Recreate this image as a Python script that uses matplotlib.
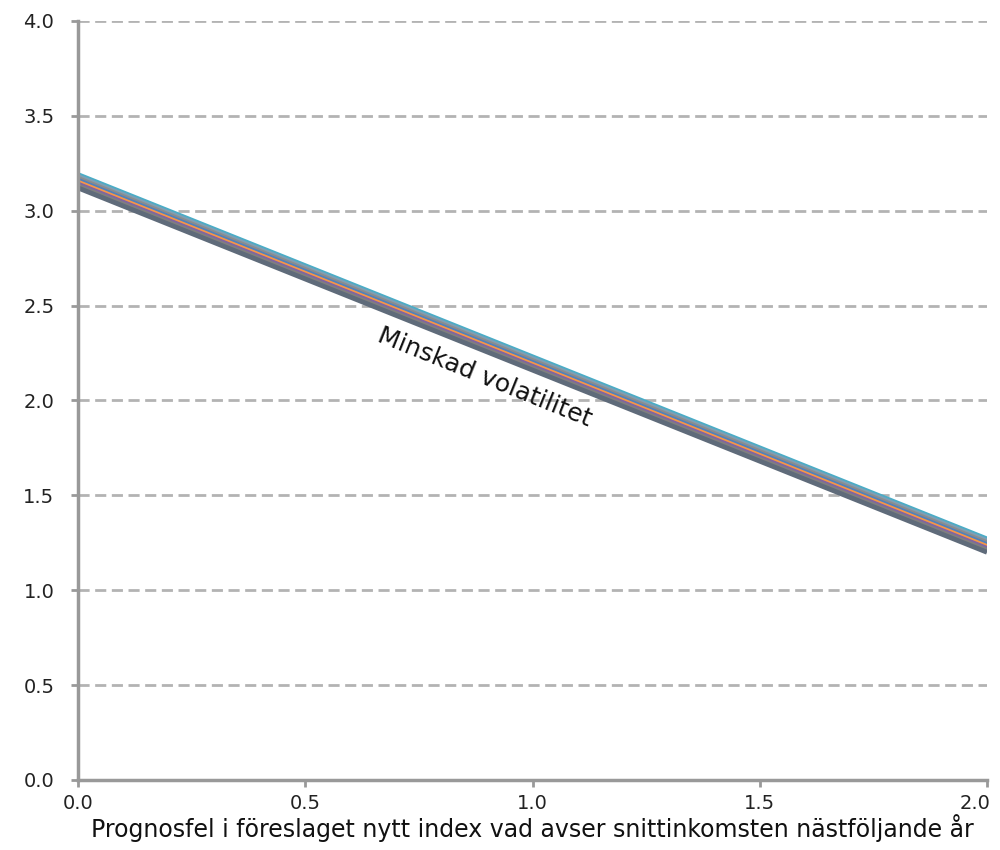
import matplotlib.pyplot as plt
from matplotlib.transforms import ScaledTranslation

# prognosfel (x) och resulterande värden för varje scenario
x = [0.0, 2.0]
start_values = [3.19, 3.18, 3.17, 3.16, 3.15, 3.14, 3.13, 3.12]
end_values = [1.27, 1.26, 1.25, 1.24, 1.23, 1.22, 1.21, 1.20]
colors = ['#4BACC6', '#7F9FB5', '#8C8C8C', '#4F81BD', '#F79646', '#8064A2', '#7F7F7F', '#5F6B7A']

xticks = [0.0, 0.5, 1.0, 1.5, 2.0]
yticks = [0.0, 0.5, 1.0, 1.5, 2.0, 2.5, 3.0, 3.5, 4.0]

fig = plt.figure(figsize=(10, 8.5), dpi=100)
ax = fig.add_axes([0.078, 0.0824, 0.909, 0.893])

for y0, y1, c in zip(start_values, end_values, colors):
    ax.plot(x, [y0, y1], color=c, linewidth=3.5, solid_capstyle='butt')

ax.set_xlim(0, 2)
ax.set_ylim(0, 4)
ax.set_xticks(xticks)
ax.set_yticks(yticks)
ax.set_xticklabels([f'{v:.1f}' for v in xticks])
ax.set_yticklabels([f'{v:.1f}' for v in yticks])

ax.yaxis.grid(True, linestyle=(0, (4, 2)), color='#B3B3B3', linewidth=2)
ax.set_axisbelow(True)
for side in ['top', 'right']:
    ax.spines[side].set_visible(False)
for side in ['left', 'bottom']:
    ax.spines[side].set_color('#999999')
    ax.spines[side].set_linewidth(2.5)
ax.tick_params(colors='#999999', width=2, length=5, labelcolor='#222222', labelsize=14)
ax.tick_params(axis='y', pad=12)
ax.tick_params(axis='x', pad=5)

# keep the last x label inside the figure
last = ax.get_xticklabels()[-1]
last.set_transform(last.get_transform() + ScaledTranslation(-0.12, 0, fig.dpi_scale_trans))

ax.set_xlabel('Prognosfel i föreslaget nytt index vad avser snittinkomsten nästföljande år',
              fontsize=17, color='#111111', labelpad=1)

ax.text(0.895, 2.12, 'Minskad volatilitet', rotation=-22, rotation_mode='anchor',
        ha='center', va='center', fontsize=18, color='#111111')

fig.savefig('out.png', dpi=100)
